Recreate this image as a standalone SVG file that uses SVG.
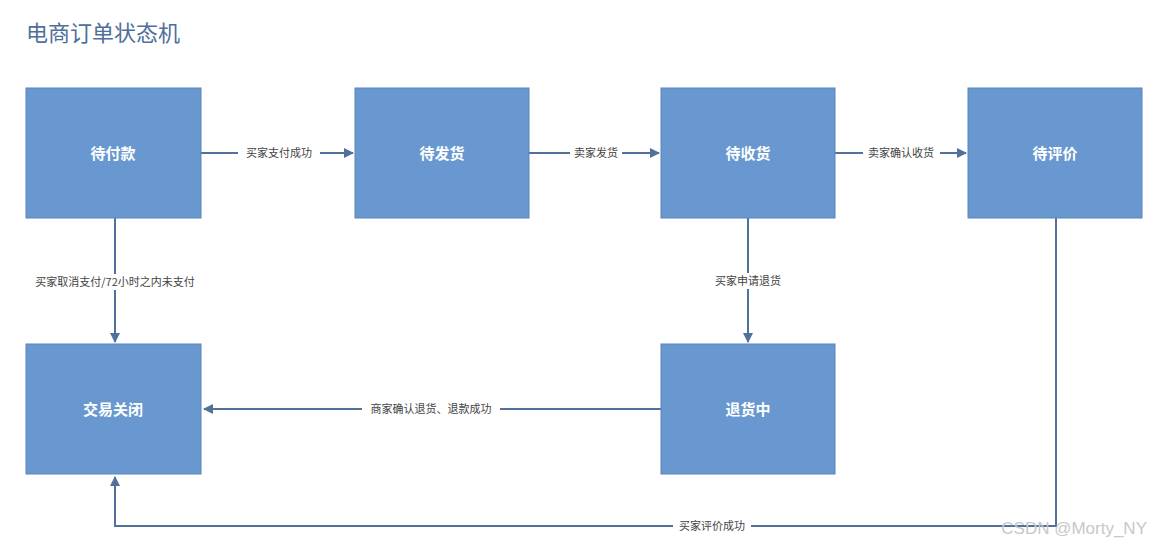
<svg xmlns="http://www.w3.org/2000/svg" width="1152" height="549" viewBox="0 0 1152 549">
<style>
.n{fill:#6898cf;stroke:#5b86bb;stroke-width:1}
.nt{font-family:"Noto Sans CJK SC",sans-serif;font-size:15px;fill:#fff;text-anchor:middle;font-weight:bold}
.c{stroke:#51709a;stroke-width:2;fill:none}
.lb{font-family:"Noto Sans CJK SC",sans-serif;font-size:11px;fill:#444;text-anchor:middle}
.bg{fill:#fff}
</style>
<defs><marker id="a" viewBox="0 0 10 10" refX="9" refY="5" markerWidth="5" markerHeight="5" orient="auto"><path d="M0,0L10,5L0,10z" fill="#51709a"/></marker></defs>
<rect width="1152" height="549" fill="#fff"/>
<text x="26" y="41" font-family="Noto Sans CJK SC,sans-serif" font-size="22" fill="#4e6f9a">电商订单状态机</text>
<g id="connectors">
<path class="c" d="M201,153H353" marker-end="url(#a)"/>
<path class="c" d="M529,153H659" marker-end="url(#a)"/>
<path class="c" d="M835,153H966" marker-end="url(#a)"/>
<path class="c" d="M115,218V342" marker-end="url(#a)"/>
<path class="c" d="M748,218V342" marker-end="url(#a)"/>
<path class="c" d="M661,409H204" marker-end="url(#a)"/>
<path class="c" d="M1056,218V526H115V477" marker-end="url(#a)"/>
<rect class="bg" x="238" y="145" width="82" height="16"/><text class="lb" x="279" y="157">买家支付成功</text>
<rect class="bg" x="570" y="145" width="52" height="16"/><text class="lb" x="596" y="157">卖家发货</text>
<rect class="bg" x="863" y="145" width="77" height="16"/><text class="lb" x="901" y="157">卖家确认收货</text>
<rect class="bg" x="24" y="274" width="182" height="16"/><text class="lb" x="115" y="286">买家取消支付/72小时之内未支付</text>
<rect class="bg" x="710" y="273" width="76" height="16"/><text class="lb" x="748" y="285">买家申请退货</text>
<rect class="bg" x="362" y="401" width="138" height="16"/><text class="lb" x="431" y="413">商家确认退货、退款成功</text>
<rect class="bg" x="673" y="518" width="78" height="16"/><text class="lb" x="712" y="530">买家评价成功</text>
</g>
<g id="n1"><rect class="n" x="26" y="88" width="175" height="130"/><text class="nt" x="113" y="159">待付款</text></g>
<g id="n2"><rect class="n" x="355" y="88" width="174" height="130"/><text class="nt" x="442" y="159">待发货</text></g>
<g id="n3"><rect class="n" x="661" y="88" width="174" height="130"/><text class="nt" x="748" y="159">待收货</text></g>
<g id="n4"><rect class="n" x="968" y="88" width="174" height="130"/><text class="nt" x="1055" y="159">待评价</text></g>
<g id="n5"><rect class="n" x="26" y="344" width="175" height="130"/><text class="nt" x="113" y="415">交易关闭</text></g>
<g id="n6"><rect class="n" x="661" y="344" width="174" height="130"/><text class="nt" x="748" y="415">退货中</text></g>
<text x="1147" y="534" font-family="Liberation Sans,sans-serif" font-size="17" fill="#c8c8c8" text-anchor="end">CSDN @Morty_NY</text>
</svg>
